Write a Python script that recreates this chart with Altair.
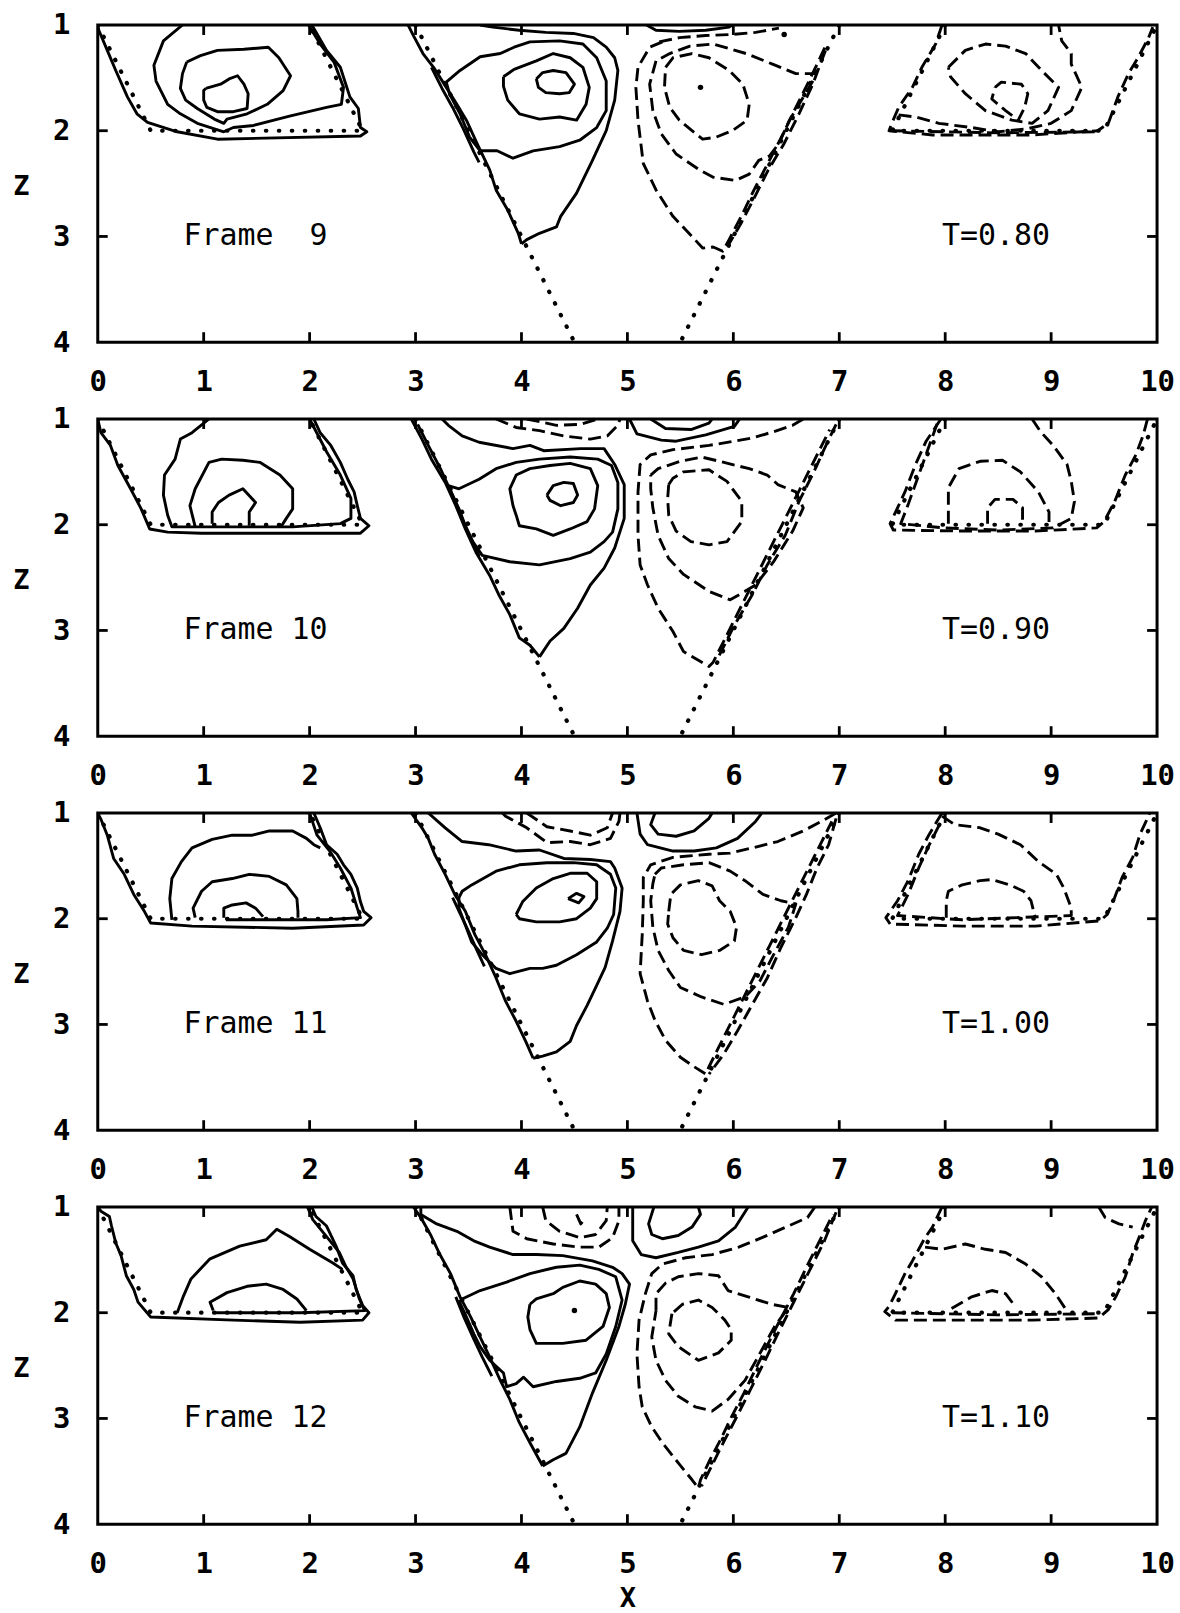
import altair as alt
import pandas as pd

# ---------------- axis values and labels ----------------
X_LABELS = list(range(0, 11))
Z_LABELS = [1, 2, 3, 4]
INNER_X = list(range(1, 10))
INNER_Z = [2, 3]
FRAMES = ["Frame\u00a0\u00a09", "Frame\u00a010", "Frame\u00a011", "Frame\u00a012"]
TIMES = ["T=0.80", "T=0.90", "T=1.00", "T=1.10"]
LABEL_POS = {"frame_x": 0.81, "time_x": 7.97, "z": 3.0}

# domain boundary (dotted)
BOUNDARY = [
    [(0, 1), (0.5, 2), (2.5, 2), (2, 1)],
    [(3, 1), (4.5, 4)],
    [(7, 1), (5.5, 4)],
    [(8, 1), (7.5, 2), (9.5, 2), (10, 1)],
]

# ---------------- Frame 9 ----------------
F9_SOLID = [
    [(0.0, 1.0), (0.01, 1.05), (0.09, 1.24), (0.17, 1.43), (0.28, 1.68), (0.37, 1.84), (0.47, 1.92), (0.75, 2.01), (1.13, 2.08), (2.48, 2.05), (2.54, 2.01), (2.48, 1.97), (2.46, 1.79), (2.38, 1.68), (2.29, 1.40), (2.16, 1.24), (2.05, 1.05), (2.02, 1.0)],
    [(0.80, 1.0), (0.62, 1.15), (0.53, 1.38), (0.55, 1.53), (0.66, 1.75), (0.78, 1.84), (0.94, 1.93), (1.19, 2.01), (1.28, 1.97), (1.47, 1.95), (1.82, 1.86), (2.16, 1.78), (2.30, 1.75), (2.32, 1.59), (2.23, 1.35), (2.10, 1.18), (1.99, 1.0)],
    [(0.84, 1.35), (0.97, 1.29), (1.13, 1.24), (1.38, 1.23), (1.61, 1.21), (1.71, 1.31), (1.82, 1.48), (1.75, 1.62), (1.60, 1.75), (1.41, 1.84), (1.22, 1.89), (1.19, 1.93), (1.10, 1.89), (0.94, 1.79), (0.83, 1.71), (0.78, 1.60), (0.80, 1.46), (0.84, 1.35)],
    [(1.02, 1.60), (1.16, 1.56), (1.24, 1.51), (1.32, 1.48), (1.38, 1.56), (1.42, 1.65), (1.41, 1.79), (1.28, 1.82), (1.13, 1.82), (1.03, 1.78), (1.00, 1.71), (1.00, 1.62), (1.02, 1.60)],
    [(2.93, 1.0), (2.98, 1.10), (3.07, 1.27), (3.17, 1.40), (3.29, 1.59), (3.39, 1.75), (3.48, 1.90), (3.58, 2.12), (3.70, 2.37), (3.76, 2.56), (3.87, 2.75), (3.97, 2.97), (4.00, 3.07)],
    [(3.15, 1.40), (3.25, 1.60), (3.35, 1.78), (3.45, 1.98), (3.55, 2.20), (3.60, 2.30)],
    [(3.61, 1.0), (3.73, 1.02), (3.98, 1.05), (4.23, 1.07), (4.49, 1.08), (4.68, 1.12), (4.80, 1.21), (4.88, 1.31), (4.91, 1.43), (4.88, 1.71), (4.80, 2.00), (4.67, 2.28), (4.52, 2.59), (4.37, 2.81), (4.33, 2.91), (4.17, 2.97), (4.05, 3.03), (4.00, 3.07)],
    [(3.29, 1.54), (3.42, 1.43), (3.61, 1.30), (3.80, 1.27), (3.93, 1.21), (4.08, 1.16), (4.36, 1.15), (4.58, 1.18), (4.71, 1.31), (4.80, 1.53), (4.80, 1.81), (4.71, 1.97), (4.55, 2.09), (4.36, 2.15), (4.11, 2.19), (3.92, 2.26), (3.77, 2.19), (3.61, 2.19), (3.51, 2.06), (3.42, 1.84), (3.32, 1.65), (3.29, 1.54)],
    [(3.83, 1.49), (3.93, 1.42), (4.14, 1.34), (4.30, 1.27), (4.46, 1.31), (4.58, 1.40), (4.64, 1.59), (4.61, 1.75), (4.52, 1.90), (4.36, 1.87), (4.17, 1.89), (3.98, 1.84), (3.87, 1.71), (3.83, 1.58), (3.83, 1.49)],
    [(4.14, 1.51), (4.20, 1.45), (4.30, 1.43), (4.42, 1.45), (4.50, 1.56), (4.45, 1.64), (4.36, 1.65), (4.23, 1.64), (4.16, 1.59), (4.14, 1.51)],
    [(5.18, 1.0), (5.27, 1.05), (5.49, 1.06), (5.74, 1.05), (5.96, 1.02), (5.99, 1.0)],
]
F9_DASHED = [
    [(5.30, 1.16), (5.49, 1.12), (5.74, 1.10), (5.99, 1.09), (6.21, 1.07), (6.43, 1.03)],
    [(5.33, 1.16), (5.21, 1.21), (5.10, 1.40), (5.08, 1.59), (5.10, 1.90), (5.15, 2.31), (5.27, 2.56), (5.43, 2.81), (5.61, 3.0), (5.71, 3.11), (5.81, 3.10), (5.90, 3.14), (5.96, 3.03), (6.08, 2.80), (6.20, 2.55), (6.33, 2.30), (6.46, 2.05), (6.58, 1.80), (6.70, 1.56), (6.80, 1.35), (6.87, 1.20)],
    [(5.27, 1.34), (5.21, 1.56), (5.24, 1.81), (5.32, 2.03), (5.46, 2.22), (5.68, 2.37), (5.81, 2.44), (6.02, 2.47), (6.15, 2.41), (6.24, 2.28), (6.34, 2.24), (6.43, 2.12), (6.53, 1.90), (6.62, 1.75), (6.75, 1.53), (6.78, 1.46), (6.59, 1.46), (6.37, 1.37), (6.12, 1.27), (5.81, 1.18), (5.59, 1.20), (5.40, 1.27), (5.27, 1.34)],
    [(5.36, 1.40), (5.43, 1.31), (5.61, 1.27), (5.77, 1.31), (5.96, 1.43), (6.09, 1.56), (6.15, 1.75), (6.13, 1.90), (5.99, 2.0), (5.84, 2.06), (5.71, 2.08), (5.61, 2.0), (5.49, 1.90), (5.40, 1.78), (5.35, 1.59), (5.36, 1.40)],
    [(6.87, 1.24), (6.75, 1.56), (6.62, 1.84), (6.48, 2.12), (6.33, 2.37), (6.20, 2.63), (6.07, 2.88), (5.96, 3.07)],
    [(7.97, 1.0), (7.91, 1.18), (7.78, 1.40), (7.69, 1.59), (7.56, 1.78), (7.50, 1.92), (7.47, 2.0), (7.88, 2.04), (8.82, 2.04), (9.44, 2.0), (9.54, 1.93), (9.63, 1.68), (9.73, 1.46), (9.82, 1.31), (9.92, 1.12), (9.96, 1.02)],
    [(7.56, 1.85), (7.72, 1.87), (7.94, 1.93), (8.25, 1.97), (8.50, 2.01), (8.78, 1.98), (9.0, 1.93), (9.19, 1.81), (9.29, 1.59), (9.19, 1.37), (9.19, 1.27), (9.10, 1.15), (9.07, 1.0)],
    [(8.03, 1.40), (8.19, 1.24), (8.38, 1.18), (8.57, 1.20), (8.76, 1.27), (8.91, 1.43), (9.07, 1.59), (8.97, 1.81), (8.82, 1.93), (8.63, 1.90), (8.38, 1.81), (8.19, 1.65), (8.05, 1.49), (8.03, 1.40)],
    [(8.47, 1.59), (8.53, 1.54), (8.72, 1.56), (8.78, 1.65), (8.75, 1.78), (8.69, 1.90), (8.57, 1.81), (8.44, 1.70), (8.47, 1.59)],
    [(7.5, 2.0), (8.5, 2.02), (9.45, 2.01)],
]
F9_DOTS = [(5.69, 1.59), (6.48, 1.09)]

# ---------------- Frame 10 ----------------
F10_SOLID = [
    [(0.0, 1.0), (0.03, 1.13), (0.12, 1.25), (0.19, 1.44), (0.31, 1.66), (0.41, 1.85), (0.49, 2.04), (0.66, 2.07), (0.98, 2.08), (1.72, 2.08), (2.48, 2.08), (2.56, 2.01), (2.48, 1.94), (2.45, 1.82), (2.42, 1.69), (2.36, 1.57), (2.29, 1.41), (2.20, 1.25), (2.10, 1.13), (2.04, 1.0)],
    [(1.05, 1.0), (0.89, 1.13), (0.78, 1.19), (0.73, 1.38), (0.63, 1.53), (0.62, 1.72), (0.66, 1.91), (0.70, 2.02), (1.21, 2.02), (1.84, 2.02), (2.29, 1.99), (2.39, 1.94), (2.39, 1.75), (2.29, 1.53), (2.16, 1.31), (2.00, 1.0)],
    [(0.92, 2.02), (0.87, 1.82), (0.92, 1.66), (1.05, 1.41), (1.17, 1.38), (1.37, 1.39), (1.53, 1.41), (1.72, 1.53), (1.84, 1.66), (1.84, 1.85), (1.78, 1.94), (1.73, 2.02)],
    [(1.08, 1.99), (1.08, 1.88), (1.14, 1.79), (1.24, 1.72), (1.37, 1.66), (1.49, 1.79), (1.43, 1.88), (1.43, 2.01)],
    [(2.96, 1.0), (3.06, 1.19), (3.15, 1.38), (3.28, 1.60), (3.38, 1.82), (3.47, 2.04), (3.57, 2.26), (3.70, 2.48), (3.79, 2.67), (3.89, 2.85), (3.98, 3.07), (4.08, 3.14), (4.17, 3.25)],
    [(3.02, 1.05), (3.12, 1.25), (3.24, 1.48), (3.34, 1.70), (3.43, 1.92), (3.52, 2.12), (3.60, 2.30)],
    [(3.25, 1.0), (3.31, 1.06), (3.44, 1.16), (3.60, 1.22), (3.92, 1.28), (4.08, 1.25), (4.21, 1.30), (4.56, 1.28), (4.78, 1.28), (4.88, 1.43), (4.97, 1.62), (4.97, 1.94), (4.88, 2.22), (4.78, 2.41), (4.65, 2.57), (4.53, 2.79), (4.40, 2.98), (4.27, 3.10), (4.17, 3.25)],
    [(3.31, 1.63), (3.41, 1.66), (3.60, 1.57), (3.76, 1.47), (3.95, 1.41), (4.17, 1.38), (4.46, 1.36), (4.72, 1.38), (4.85, 1.44), (4.91, 1.60), (4.91, 1.85), (4.86, 2.07), (4.78, 2.16), (4.65, 2.26), (4.46, 2.32), (4.17, 2.38), (3.89, 2.35), (3.63, 2.29), (3.54, 2.16), (3.47, 2.01), (3.41, 1.85), (3.35, 1.72), (3.31, 1.63)],
    [(3.92, 1.82), (3.89, 1.66), (3.95, 1.53), (4.08, 1.47), (4.27, 1.44), (4.46, 1.42), (4.65, 1.47), (4.72, 1.63), (4.69, 1.85), (4.62, 1.97), (4.46, 2.04), (4.30, 2.10), (4.14, 2.04), (3.98, 2.01), (3.95, 1.91), (3.92, 1.82)],
    [(4.24, 1.72), (4.30, 1.63), (4.40, 1.60), (4.49, 1.61), (4.53, 1.72), (4.49, 1.79), (4.37, 1.82), (4.27, 1.77), (4.24, 1.72)],
    [(5.02, 1.0), (5.09, 1.14), (5.32, 1.20), (5.46, 1.21), (5.74, 1.15), (6.01, 1.07), (6.06, 1.0)],
    [(5.22, 1.0), (5.36, 1.09), (5.60, 1.10), (5.77, 1.04), (5.80, 1.0)],
]
F10_DASHED = [
    [(3.76, 1.0), (3.95, 1.08), (4.17, 1.11), (4.40, 1.16), (4.65, 1.19), (4.81, 1.16), (4.91, 1.06), (4.93, 1.0)],
    [(4.05, 1.0), (4.33, 1.06), (4.56, 1.05), (4.72, 1.0)],
    [(6.66, 1.0), (6.56, 1.06), (6.38, 1.12), (6.18, 1.18), (6.01, 1.21), (5.77, 1.25), (5.43, 1.29), (5.22, 1.34), (5.12, 1.43), (5.10, 1.69), (5.10, 2.10), (5.12, 2.38), (5.19, 2.57), (5.29, 2.79), (5.43, 3.01), (5.53, 3.20), (5.77, 3.34), (5.81, 3.30), (5.91, 3.10), (6.03, 2.86), (6.16, 2.60), (6.28, 2.36), (6.40, 2.12), (6.52, 1.88), (6.63, 1.66), (6.74, 1.44), (6.84, 1.24), (6.91, 1.10)],
    [(5.22, 1.53), (5.29, 1.47), (5.50, 1.40), (5.70, 1.36), (5.87, 1.40), (6.15, 1.47), (6.32, 1.53), (6.42, 1.62), (6.59, 1.69), (6.66, 1.84), (6.56, 2.06), (6.38, 2.35), (6.21, 2.57), (6.11, 2.63), (5.97, 2.71), (5.77, 2.63), (5.53, 2.47), (5.39, 2.32), (5.29, 2.10), (5.24, 1.84), (5.22, 1.66), (5.22, 1.53)],
    [(5.39, 1.62), (5.43, 1.56), (5.53, 1.50), (5.77, 1.48), (5.94, 1.59), (6.08, 1.78), (6.08, 1.97), (5.94, 2.16), (5.77, 2.19), (5.60, 2.16), (5.46, 2.06), (5.39, 1.91), (5.38, 1.75), (5.39, 1.62)],
    [(6.97, 1.05), (6.86, 1.28), (6.76, 1.50), (6.62, 1.78), (6.49, 2.10), (6.32, 2.38), (6.18, 2.66), (6.01, 2.95), (5.84, 3.29)],
    [(7.96, 1.0), (7.82, 1.21), (7.72, 1.43), (7.62, 1.69), (7.55, 1.84), (7.48, 1.99), (7.51, 2.05), (8.16, 2.06), (8.85, 2.06), (9.43, 2.03), (9.50, 1.97), (9.60, 1.78), (9.70, 1.53), (9.80, 1.34), (9.87, 1.15), (9.91, 1.0)],
    [(8.82, 1.0), (8.90, 1.12), (9.02, 1.25), (9.15, 1.43), (9.19, 1.59), (9.22, 1.78), (9.19, 1.94), (9.02, 2.03), (8.50, 2.05), (7.99, 2.03), (7.58, 1.99), (7.65, 1.81), (7.75, 1.53), (7.85, 1.25), (7.94, 1.0)],
    [(8.03, 1.99), (8.03, 1.88), (8.03, 1.65), (8.13, 1.47), (8.33, 1.40), (8.54, 1.39), (8.71, 1.50), (8.88, 1.69), (8.98, 1.88), (8.98, 1.99)],
    [(8.40, 1.99), (8.40, 1.84), (8.47, 1.76), (8.64, 1.76), (8.73, 1.84), (8.73, 1.99)],
]
F10_DOTS = []

# ---------------- Frame 11 ----------------
F11_SOLID = [
    [(0.0, 1.0), (0.03, 1.06), (0.09, 1.21), (0.15, 1.43), (0.25, 1.58), (0.34, 1.77), (0.44, 1.93), (0.50, 2.04), (0.89, 2.07), (1.84, 2.09), (2.51, 2.06), (2.58, 1.99), (2.51, 1.93), (2.48, 1.84), (2.45, 1.71), (2.39, 1.58), (2.32, 1.49), (2.26, 1.39), (2.16, 1.30), (2.10, 1.14), (2.04, 1.0)],
    [(2.00, 1.0), (2.07, 1.21), (2.19, 1.36), (2.29, 1.52), (2.39, 1.71), (2.45, 1.90), (2.48, 1.99), (2.16, 2.01), (1.21, 2.01)],
    [(0.70, 2.01), (0.68, 1.81), (0.70, 1.62), (0.79, 1.46), (0.89, 1.33), (1.08, 1.25), (1.27, 1.21), (1.46, 1.21), (1.62, 1.17), (1.84, 1.17), (1.97, 1.24), (2.04, 1.30), (2.10, 1.33)],
    [(0.92, 1.99), (0.90, 1.90), (0.98, 1.74), (1.08, 1.65), (1.27, 1.62), (1.43, 1.58), (1.62, 1.60), (1.78, 1.68), (1.88, 1.81), (1.89, 1.93), (1.89, 1.99)],
    [(1.19, 1.99), (1.19, 1.90), (1.27, 1.87), (1.40, 1.85), (1.49, 1.90), (1.56, 1.98)],
    [(2.96, 1.0), (3.06, 1.14), (3.12, 1.24), (3.18, 1.39), (3.28, 1.58), (3.37, 1.77), (3.47, 1.93), (3.56, 2.15), (3.66, 2.34), (3.76, 2.56), (3.85, 2.78), (3.95, 2.97), (4.04, 3.16), (4.11, 3.32)],
    [(3.35, 1.80), (3.42, 1.95), (3.50, 2.12), (3.58, 2.30), (3.65, 2.45)],
    [(3.12, 1.0), (3.28, 1.14), (3.44, 1.27), (3.69, 1.30), (3.95, 1.36), (4.17, 1.35), (4.40, 1.43), (4.65, 1.44), (4.84, 1.46), (4.88, 1.52), (4.95, 1.71), (4.93, 1.93), (4.86, 2.21), (4.79, 2.46), (4.71, 2.63), (4.62, 2.82), (4.52, 3.01), (4.46, 3.16), (4.33, 3.26), (4.20, 3.30), (4.11, 3.32)],
    [(3.41, 1.80), (3.44, 1.74), (3.53, 1.68), (3.76, 1.55), (3.98, 1.49), (4.24, 1.47), (4.49, 1.47), (4.71, 1.49), (4.84, 1.58), (4.89, 1.71), (4.87, 1.96), (4.81, 2.09), (4.71, 2.22), (4.52, 2.34), (4.33, 2.44), (4.20, 2.47), (4.08, 2.47), (3.89, 2.52), (3.76, 2.47), (3.63, 2.34), (3.53, 2.22), (3.47, 2.06), (3.41, 1.90), (3.41, 1.80)],
    [(3.95, 1.96), (4.01, 1.84), (4.14, 1.71), (4.30, 1.62), (4.46, 1.57), (4.62, 1.57), (4.71, 1.65), (4.71, 1.81), (4.65, 1.90), (4.52, 2.00), (4.36, 2.03), (4.14, 2.03), (3.98, 2.00), (3.95, 1.96)],
    [(4.44, 1.81), (4.52, 1.76), (4.59, 1.79), (4.54, 1.85), (4.44, 1.81)],
    [(5.09, 1.0), (5.12, 1.20), (5.19, 1.30), (5.43, 1.36), (5.63, 1.36), (5.84, 1.33), (6.04, 1.24), (6.21, 1.08), (6.27, 1.0)],
    [(5.26, 1.0), (5.22, 1.11), (5.29, 1.20), (5.46, 1.22), (5.63, 1.17), (5.77, 1.05), (5.80, 1.0)],
]
F11_DASHED = [
    [(3.82, 1.0), (3.85, 1.03), (4.05, 1.14), (4.24, 1.28), (4.46, 1.27), (4.65, 1.30), (4.84, 1.24), (4.92, 1.08), (4.93, 1.0)],
    [(4.05, 1.0), (4.24, 1.13), (4.46, 1.17), (4.65, 1.21), (4.81, 1.14), (4.86, 1.0)],
    [(6.97, 1.0), (6.83, 1.08), (6.66, 1.17), (6.42, 1.27), (6.18, 1.33), (5.97, 1.38), (5.77, 1.39), (5.43, 1.42), (5.22, 1.49), (5.15, 1.61), (5.15, 1.83), (5.14, 2.15), (5.12, 2.52), (5.19, 2.78), (5.26, 2.96), (5.36, 3.15), (5.50, 3.31), (5.63, 3.40), (5.74, 3.47), (5.77, 3.40), (5.86, 3.22), (5.98, 2.98), (6.11, 2.72), (6.23, 2.48), (6.35, 2.24), (6.47, 2.00), (6.59, 1.76), (6.71, 1.52), (6.83, 1.28), (6.93, 1.08)],
    [(5.26, 1.58), (5.32, 1.52), (5.53, 1.49), (5.77, 1.47), (5.97, 1.55), (6.11, 1.64), (6.28, 1.77), (6.45, 1.83), (6.59, 1.86), (6.52, 2.08), (6.38, 2.34), (6.25, 2.59), (6.11, 2.74), (5.91, 2.81), (5.70, 2.74), (5.50, 2.65), (5.39, 2.49), (5.29, 2.30), (5.24, 2.08), (5.22, 1.83), (5.24, 1.67), (5.26, 1.58)],
    [(5.39, 1.93), (5.41, 1.77), (5.50, 1.68), (5.67, 1.64), (5.80, 1.69), (5.87, 1.83), (5.97, 1.93), (6.03, 2.08), (6.01, 2.21), (5.87, 2.30), (5.70, 2.34), (5.53, 2.30), (5.43, 2.18), (5.38, 2.05), (5.39, 1.93)],
    [(6.97, 1.05), (6.90, 1.30), (6.79, 1.52), (6.69, 1.77), (6.59, 1.99), (6.45, 2.27), (6.32, 2.56), (6.18, 2.81), (6.04, 3.06), (5.91, 3.28), (5.77, 3.47)],
    [(7.97, 1.0), (7.85, 1.20), (7.75, 1.39), (7.65, 1.64), (7.55, 1.83), (7.44, 1.99), (7.48, 2.05), (8.16, 2.07), (8.85, 2.07), (9.46, 2.02), (9.53, 1.96), (9.60, 1.80), (9.67, 1.61), (9.77, 1.42), (9.84, 1.20), (9.91, 1.05), (9.93, 1.0)],
    [(7.97, 1.03), (8.09, 1.11), (8.33, 1.14), (8.50, 1.20), (8.71, 1.30), (8.88, 1.46), (9.05, 1.58), (9.12, 1.71), (9.19, 1.90), (9.19, 1.97), (8.16, 2.01), (7.55, 1.97), (7.65, 1.77), (7.75, 1.52), (7.85, 1.30), (7.96, 1.08)],
    [(8.01, 1.99), (8.01, 1.83), (8.03, 1.74), (8.16, 1.68), (8.33, 1.64), (8.44, 1.63), (8.61, 1.68), (8.74, 1.74), (8.81, 1.83), (8.85, 1.99)],
]
F11_DOTS = []

# ---------------- Frame 12 ----------------
F12_SOLID = [
    [(0.0, 1.0), (0.03, 1.04), (0.11, 1.09), (0.13, 1.18), (0.17, 1.34), (0.22, 1.46), (0.27, 1.65), (0.34, 1.78), (0.38, 1.90), (0.50, 2.04), (1.28, 2.07), (1.91, 2.09), (2.50, 2.07), (2.56, 2.0), (2.50, 1.93), (2.44, 1.78), (2.41, 1.65), (2.31, 1.53), (2.25, 1.37), (2.16, 1.18), (2.06, 1.09), (2.02, 1.0)],
    [(1.98, 1.0), (2.03, 1.12), (2.16, 1.28), (2.28, 1.43), (2.34, 1.56), (2.41, 1.68), (2.47, 1.87), (2.52, 1.98), (1.91, 2.0), (1.10, 2.0)],
    [(0.75, 2.0), (0.81, 1.84), (0.88, 1.68), (1.06, 1.49), (1.34, 1.37), (1.59, 1.31), (1.69, 1.21), (1.81, 1.28), (2.0, 1.40), (2.22, 1.53), (2.31, 1.59)],
    [(1.09, 1.98), (1.06, 1.90), (1.22, 1.81), (1.41, 1.75), (1.59, 1.73), (1.75, 1.78), (1.88, 1.87), (1.97, 1.98)],
    [(2.98, 1.0), (3.05, 1.10), (3.14, 1.26), (3.23, 1.45), (3.33, 1.63), (3.42, 1.85), (3.52, 2.04), (3.61, 2.23), (3.70, 2.42), (3.80, 2.64), (3.89, 2.82), (3.98, 3.04), (4.08, 3.23), (4.20, 3.45)],
    [(3.38, 1.85), (3.46, 2.05), (3.55, 2.25), (3.63, 2.42), (3.72, 2.60)],
    [(3.05, 1.0), (3.05, 1.07), (3.20, 1.16), (3.39, 1.23), (3.55, 1.32), (3.70, 1.38), (3.92, 1.45), (4.14, 1.45), (4.39, 1.46), (4.67, 1.51), (4.86, 1.57), (4.95, 1.63), (5.02, 1.73), (4.98, 1.92), (4.92, 2.13), (4.80, 2.45), (4.67, 2.76), (4.55, 3.08), (4.42, 3.33), (4.30, 3.39), (4.20, 3.45)],
    [(3.42, 1.88), (3.61, 1.79), (3.86, 1.71), (4.08, 1.63), (4.33, 1.57), (4.55, 1.55), (4.73, 1.59), (4.89, 1.66), (4.95, 1.88), (4.89, 2.13), (4.80, 2.39), (4.70, 2.57), (4.55, 2.62), (4.33, 2.65), (4.11, 2.70), (4.02, 2.61), (3.95, 2.67), (3.86, 2.70), (3.83, 2.57), (3.70, 2.45), (3.61, 2.32), (3.55, 2.20), (3.48, 2.04), (3.42, 1.91), (3.42, 1.88)],
    [(4.08, 1.92), (4.14, 1.87), (4.30, 1.82), (4.39, 1.76), (4.55, 1.70), (4.70, 1.73), (4.80, 1.82), (4.83, 1.95), (4.77, 2.13), (4.61, 2.26), (4.39, 2.29), (4.14, 2.29), (4.08, 2.16), (4.06, 2.04), (4.08, 1.92)],
    [(5.05, 1.0), (5.05, 1.32), (5.13, 1.45), (5.27, 1.48), (5.48, 1.43), (5.67, 1.38), (5.86, 1.32), (6.02, 1.19), (6.14, 1.0)],
    [(5.25, 1.0), (5.20, 1.16), (5.23, 1.26), (5.33, 1.30), (5.48, 1.27), (5.61, 1.19), (5.69, 1.07), (5.67, 1.0)],
]
F12_DASHED = [
    [(3.89, 1.0), (3.92, 1.23), (4.05, 1.30), (4.30, 1.35), (4.55, 1.38), (4.73, 1.38), (4.86, 1.29), (4.92, 1.13), (4.92, 1.0)],
    [(4.20, 1.0), (4.23, 1.13), (4.36, 1.23), (4.55, 1.29), (4.70, 1.26), (4.80, 1.13), (4.81, 1.0)],
    [(4.52, 1.07), (4.56, 1.16), (4.61, 1.10)],
    [(6.77, 1.0), (6.70, 1.10), (6.52, 1.18), (6.27, 1.29), (6.05, 1.38), (5.80, 1.45), (5.55, 1.48), (5.33, 1.54), (5.23, 1.63), (5.17, 1.82), (5.11, 2.07), (5.09, 2.39), (5.11, 2.70), (5.14, 2.89), (5.23, 3.08), (5.33, 3.23), (5.48, 3.42), (5.61, 3.58), (5.67, 3.66), (5.69, 3.58), (5.78, 3.39), (5.88, 3.20), (5.97, 3.01), (6.10, 2.76), (6.22, 2.51), (6.33, 2.29), (6.44, 2.07), (6.57, 1.82), (6.69, 1.57), (6.83, 1.29), (6.94, 1.07)],
    [(5.27, 1.98), (5.27, 1.82), (5.36, 1.72), (5.48, 1.66), (5.67, 1.63), (5.86, 1.65), (5.95, 1.79), (6.14, 1.85), (6.36, 1.92), (6.52, 1.95), (6.39, 2.13), (6.27, 2.35), (6.11, 2.64), (5.95, 2.82), (5.80, 2.93), (5.64, 2.89), (5.48, 2.79), (5.36, 2.64), (5.27, 2.45), (5.23, 2.23), (5.27, 1.98)],
    [(5.42, 2.01), (5.39, 2.20), (5.48, 2.32), (5.67, 2.45), (5.86, 2.38), (5.98, 2.26), (5.98, 2.16), (5.92, 2.07), (5.80, 1.95), (5.67, 1.88), (5.52, 1.92), (5.42, 2.01)],
    [(6.97, 1.05), (6.86, 1.32), (6.72, 1.60), (6.56, 1.92), (6.42, 2.20), (6.30, 2.45), (6.16, 2.73), (6.05, 2.95), (5.92, 3.20), (5.81, 3.42), (5.70, 3.64)],
    [(7.97, 1.0), (7.88, 1.19), (7.81, 1.29), (7.69, 1.51), (7.62, 1.63), (7.53, 1.82), (7.47, 1.94), (7.43, 1.99), (7.53, 2.07), (8.19, 2.07), (8.82, 2.07), (9.45, 2.05), (9.54, 1.97), (9.61, 1.85), (9.70, 1.66), (9.77, 1.44), (9.83, 1.29), (9.89, 1.13), (9.95, 1.0)],
    [(9.45, 1.0), (9.51, 1.10), (9.64, 1.16), (9.77, 1.19)],
    [(7.81, 1.38), (7.97, 1.40), (8.19, 1.35), (8.38, 1.40), (8.57, 1.43), (8.76, 1.54), (8.91, 1.66), (9.04, 1.82), (9.14, 1.97)],
    [(8.06, 1.96), (8.25, 1.85), (8.44, 1.79), (8.57, 1.82), (8.66, 1.94)],
    [(7.5, 2.0), (8.5, 2.02), (9.45, 2.01)],
]
F12_DOTS = [(4.50, 1.98)]

PANELS = [
    (F9_SOLID, F9_DASHED, F9_DOTS),
    (F10_SOLID, F10_DASHED, F10_DOTS),
    (F11_SOLID, F11_DASHED, F11_DOTS),
    (F12_SOLID, F12_DASHED, F12_DOTS),
]

# ---------------- chart construction ----------------
W, H = 1062, 318
FONT = "DejaVu Sans Mono"


def lines_df(lines, tag):
    rows = []
    for k, pts in enumerate(lines):
        for i, (x, z) in enumerate(pts):
            rows.append({"lid": f"{tag}{k}", "i": i, "x": x, "z": z})
    return pd.DataFrame(rows)


def make_panel(idx, solid, dashed, dots, last):
    xs = alt.Scale(domain=[0, 10], nice=False, zero=False)
    zs = alt.Scale(domain=[1, 4], reverse=True, nice=False, zero=False)
    xaxis = alt.Axis(
        values=X_LABELS, grid=False, ticks=False, domain=False, tickSize=0,
        labelFont=FONT, labelFontSize=29, labelFontWeight="bold", labelColor="black",
        labelPadding=25, labelFlush=False, labelOverlap=False,
        title="X" if last else None, titleFont=FONT, titleFontSize=27,
        titleFontWeight="bold", titleColor="black", titlePadding=8,
    )
    zaxis = alt.Axis(
        values=Z_LABELS, grid=False, ticks=False, domain=False, tickSize=0,
        labelFont=FONT, labelFontSize=29, labelFontWeight="bold", labelColor="black",
        labelPadding=28, labelFlush=False, labelOverlap=False,
        title="Z", titleFont=FONT, titleFontSize=27, titleFontWeight="bold",
        titleColor="black", titleAngle=0, titleX=-77, titleY=162,
        titleAlign="center", titleBaseline="middle",
    )

    def X(f):
        return alt.X(f, type="quantitative", scale=xs, axis=xaxis)

    def Y(f):
        return alt.Y(f, type="quantitative", scale=zs, axis=zaxis)

    layers = []
    layers.append(
        alt.Chart(lines_df(BOUNDARY, "b")).mark_line(
            color="black", strokeWidth=4.2, strokeDash=[0.5, 12.5], strokeCap="round", clip=True
        ).encode(x=X("x"), y=Y("z"), detail="lid:N", order="i:Q")
    )
    layers.append(
        alt.Chart(lines_df(solid, "s")).mark_line(
            color="black", strokeWidth=2.9, strokeJoin="round", clip=True
        ).encode(x=X("x"), y=Y("z"), detail="lid:N", order="i:Q")
    )
    layers.append(
        alt.Chart(lines_df(dashed, "d")).mark_line(
            color="black", strokeWidth=2.9, strokeDash=[13, 6], strokeJoin="round", clip=True
        ).encode(x=X("x"), y=Y("z"), detail="lid:N", order="i:Q")
    )
    if dots:
        layers.append(
            alt.Chart(pd.DataFrame(dots, columns=["x", "z"])).mark_circle(
                color="black", size=30, opacity=1
            ).encode(x=X("x"), y=Y("z"))
        )
    tx = pd.DataFrame({"t": INNER_X})
    tz = pd.DataFrame({"t": INNER_Z})
    rule = dict(color="black", strokeWidth=2.8)
    layers.append(alt.Chart(tx).mark_rule(**rule).encode(x=X("t"), y=alt.value(H), y2=alt.value(H - 10)))
    layers.append(alt.Chart(tx).mark_rule(**rule).encode(x=X("t"), y=alt.value(0), y2=alt.value(10)))
    layers.append(alt.Chart(tz).mark_rule(**rule).encode(y=Y("t"), x=alt.value(0), x2=alt.value(10)))
    layers.append(alt.Chart(tz).mark_rule(**rule).encode(y=Y("t"), x=alt.value(W), x2=alt.value(W - 10)))
    txt = pd.DataFrame({
        "x": [LABEL_POS["frame_x"], LABEL_POS["time_x"]],
        "z": [LABEL_POS["z"], LABEL_POS["z"]],
        "s": [FRAMES[idx], TIMES[idx]],
    })
    layers.append(
        alt.Chart(txt).mark_text(
            align="left", baseline="middle", font=FONT, fontSize=30, color="black"
        ).encode(x=X("x"), y=Y("z"), text="s:N")
    )
    return alt.layer(*layers).properties(width=W, height=H)


panels = [
    make_panel(k, s, d, p, k == len(PANELS) - 1)
    for k, (s, d, p) in enumerate(PANELS)
]

chart = (
    alt.vconcat(*panels, spacing=77, bounds="flush")
    .properties(padding={"left": 11, "top": 7, "right": 4, "bottom": 2}, background="white")
    .configure_view(stroke="black", strokeWidth=3)
)

chart.save("out.html", embed_options={"renderer": "svg", "actions": False})
